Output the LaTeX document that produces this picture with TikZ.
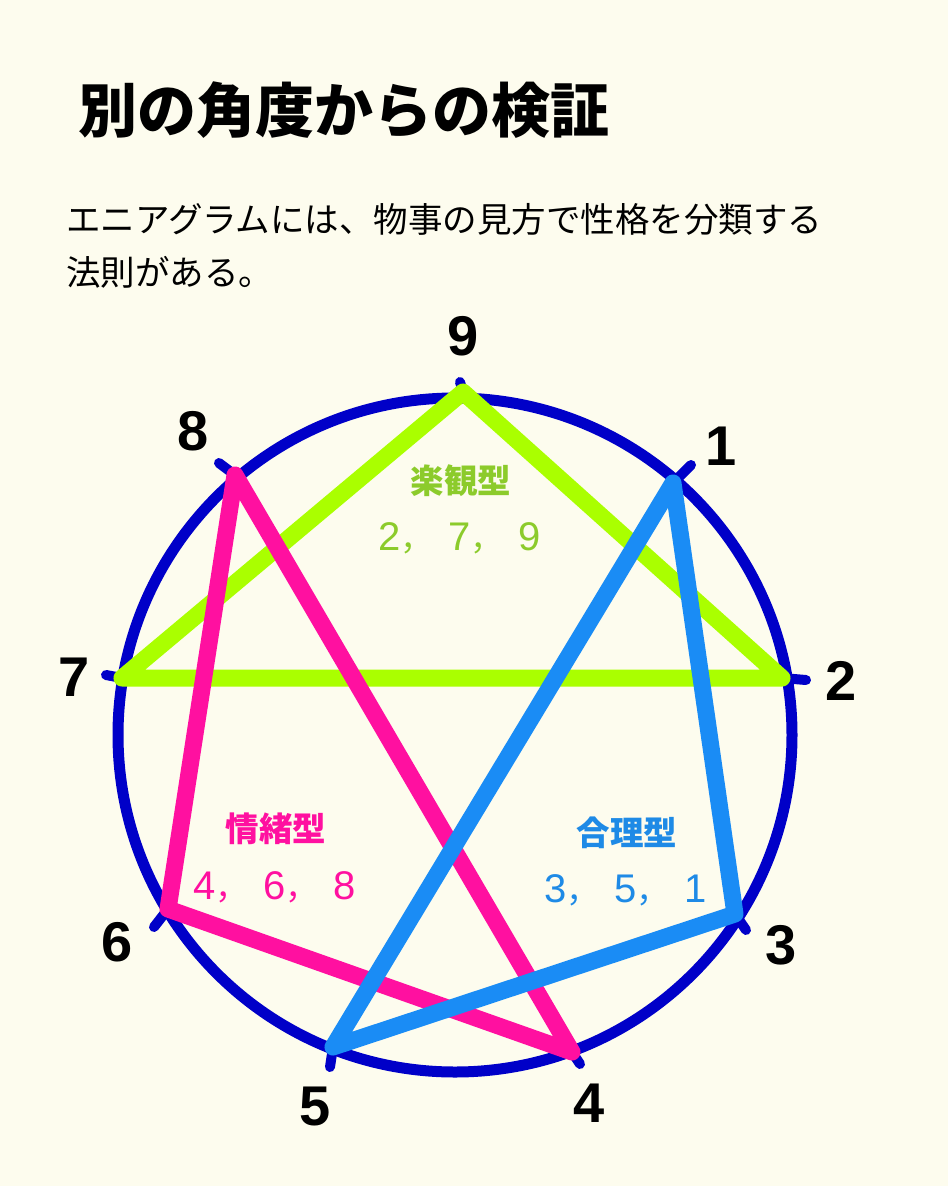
\documentclass[tikz,border=0pt]{standalone}
\usepackage{fontspec}
\setmainfont{Noto Sans CJK JP}
\newfontfamily\numfont{Liberation Sans}
\usepackage{tikz}
\definecolor{bg}{HTML}{FDFCEE}
\definecolor{ring}{HTML}{0000C8}
\definecolor{lime}{HTML}{AAFF00}
\definecolor{limetxt}{HTML}{8CCB2B}
\definecolor{pink}{HTML}{FF10A0}
\definecolor{sky}{HTML}{1A8CF5}
\definecolor{skytxt}{HTML}{1E8AE6}
\newcommand\dg[1]{\makebox[24pt]{\numfont\fontsize{40}{40}\selectfont #1}}
\newcommand\cm{\makebox[46pt][l]{\hspace{-2pt}，}}
\begin{document}
\begin{tikzpicture}[x=1pt,y=-1pt,num/.style={font=\numfont\fontsize{56}{56}\selectfont\bfseries,inner sep=0pt},grp/.style={font=\fontsize{33.5}{33.5}\selectfont\bfseries,inner sep=0pt},mem/.style={font=\fontsize{33}{33}\selectfont,inner sep=0pt,anchor=base},tick/.style={ring,line width=10pt,line cap=round},edge/.style={line width=17pt,line cap=round,line join=round}]
\fill[bg] (0,0) rectangle (948,1186);
\node[anchor=west,inner sep=0pt,font=\fontsize{59}{59}\selectfont\bfseries] (title) at (78,110) {別の角度からの検証};
\node[anchor=west,inner sep=0pt,font=\fontsize{34.5}{34.5}\selectfont] (line1) at (66,219) {エニアグラムには、物事の見方で性格を分類する};
\node[anchor=west,inner sep=0pt,font=\fontsize{34.5}{34.5}\selectfont] (line2) at (66,272) {法則がある。};
% vertices and tick ends
\coordinate (p9) at (463,392); \coordinate (t9) at (460,382);
\coordinate (p1) at (673,483); \coordinate (t1) at (691,465);
\coordinate (p2) at (782,678); \coordinate (t2) at (806,680);
\coordinate (p3) at (735,914); \coordinate (t3) at (746,930);
\coordinate (p4) at (572,1052); \coordinate (t4) at (580,1064);
\coordinate (p5) at (333,1047); \coordinate (t5) at (330,1067);
\coordinate (p6) at (168,909); \coordinate (t6) at (154,927);
\coordinate (p7) at (122,678); \coordinate (t7) at (106,675);
\coordinate (p8) at (235,475); \coordinate (t8) at (219,463);
\draw[ring,line width=11pt] (455,735) circle[radius=337];
\foreach \k in {1,...,9} \draw[tick] (p\k) -- (t\k);
\draw[edge,lime] (p9) -- (p2) -- (p7) -- cycle;
\draw[edge,pink] (p8) -- (p4) -- (p6) -- cycle;
\draw[edge,sky] (p1) -- (p5) -- (p3) -- cycle;
\node[num] (n9) at (463,336) {9};
\node[num] (n1) at (721,446) {1};
\node[num] (n2) at (841,681) {2};
\node[num] (n3) at (781,945) {3};
\node[num] (n4) at (589,1103) {4};
\node[num] (n5) at (315,1106) {5};
\node[num] (n6) at (117,942) {6};
\node[num] (n7) at (74,677) {7};
\node[num] (n8) at (193,431) {8};
\node[grp,limetxt] (opt) at (461,481) {楽観型};
\node[mem,limetxt] (optm) at (460,550) {\dg{2}\cm\dg{7}\cm\dg{9}};
\node[grp,pink] (emo) at (276,829) {情緒型};
\node[mem,pink] (emom) at (275,899) {\dg{4}\cm\dg{6}\cm\dg{8}};
\node[grp,skytxt] (rat) at (627,833) {合理型};
\node[mem,skytxt] (ratm) at (626,902) {\dg{3}\cm\dg{5}\cm\dg{1}};
\end{tikzpicture}
\end{document}
